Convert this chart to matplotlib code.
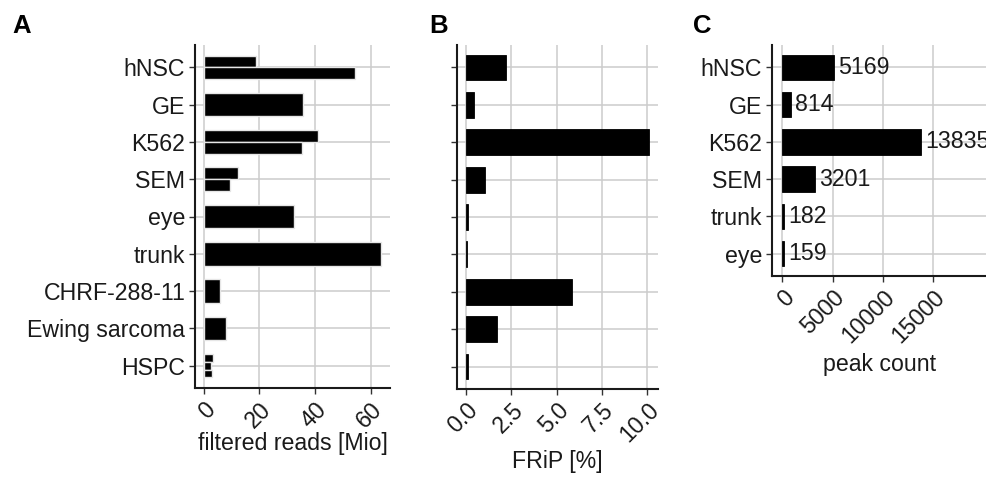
import numpy as np
import matplotlib
matplotlib.use('Agg')
import matplotlib.pyplot as plt

plt.rcParams['font.family'] = ['Liberation Sans', 'DejaVu Sans']
plt.rcParams['font.size'] = 16.7

#~~~~~~~~DATA~~~~~~~~#
samples_ab = ['hNSC', 'GE', 'K562', 'SEM', 'eye', 'trunk', 'CHRF-288-11', 'Ewing sarcoma', 'HSPC']
# filtered reads per replicate [Mio]
reads = [[18.8, 54.3], [35.8], [41.2, 35.2], [12.4, 9.5], [32.5], [63.8], [5.8], [7.9], [3.4, 2.4, 2.8]]
# FRiP [%]
frip = [2.22, 0.46, 10.09, 1.06, 0.12, 0.07, 5.85, 1.72, 0.12]
reads_ticks = [0, 20, 40, 60]
frip_ticks = [0.0, 2.5, 5.0, 7.5, 10.0]

samples_c = ['hNSC', 'GE', 'K562', 'SEM', 'trunk', 'eye']
peaks = [5169, 814, 13835, 3201, 182, 159]
peak_ticks = [0, 5000, 10000, 15000]

#~~~~~~~~STYLE~~~~~~~~#
W, H = 987, 479
grid_col = '#cccccc'
ink = '#1a1a1a'


def px_axes(fig, left, top, right, bottom):
    return fig.add_axes([left / W, 1 - bottom / H, (right - left) / W, (bottom - top) / H])


def style(ax, ncat):
    ax.set_ylim(ncat - 1 + 0.6, -0.6)
    ax.set_axisbelow(True)
    ax.grid(True, color=grid_col, linewidth=1.1)
    for s in ['top', 'right']:
        ax.spines[s].set_visible(False)
    for s in ['left', 'bottom']:
        ax.spines[s].set_linewidth(1.5)
        ax.spines[s].set_color(ink)
    ax.tick_params(axis='both', length=4, width=1.0, color='#333333', labelcolor=ink, pad=3)


fig = plt.figure(figsize=(W / 100, H / 100), dpi=100)

#=============A==============#
axA = px_axes(fig, 195, 45, 390, 388)
width_a = 0.63
for i, vals in enumerate(reads):
    n = len(vals)
    h = width_a / n
    for k, v in enumerate(vals):
        yc = i - width_a / 2 + h * (k + 0.5)
        axA.barh(yc, v, height=h, color='black', edgecolor='#e6e6e6', linewidth=1.0)
maxA = max(max(v) for v in reads)
axA.set_xlim(-0.05 * maxA, 1.05 * maxA)
style(axA, len(samples_ab))
axA.set_yticks(range(len(samples_ab)))
axA.set_yticklabels(samples_ab)
axA.set_xticks(reads_ticks)
axA.set_xticklabels([str(t) for t in reads_ticks], rotation=45, ha='right', va='top', rotation_mode='anchor')
axA.set_xlabel('filtered reads [Mio]', labelpad=0, color=ink)

#=============B==============#
axB = px_axes(fig, 457, 45, 658, 389)
axB.barh(range(len(frip)), frip, height=0.69, color='black', edgecolor='black', linewidth=0.6)
maxB = max(frip)
axB.set_xlim(-0.05 * maxB, 1.05 * maxB)
style(axB, len(samples_ab))
axB.set_yticks(range(len(samples_ab)))
axB.set_yticklabels([])
axB.set_xticks(frip_ticks)
axB.set_xticklabels(['%.1f' % t for t in frip_ticks], rotation=45, ha='right', va='top', rotation_mode='anchor')
axB.set_xlabel('FRiP [%]', labelpad=2, color=ink)

#=============C==============#
axC = px_axes(fig, 772, 45, 987, 276)
yc = np.arange(len(peaks))
axC.barh(yc, peaks, height=0.69, color='black', edgecolor='black', linewidth=0.6)
for y, v in zip(yc, peaks):
    axC.annotate(str(v), (v, y), xytext=(3, 0), textcoords='offset points',
                 ha='left', va='center', color=ink, annotation_clip=False)
axC.set_xlim(-1040, 20360)
style(axC, len(samples_c))
axC.set_yticks(yc)
axC.set_yticklabels(samples_c)
axC.set_xticks(peak_ticks)
axC.set_xticklabels([str(t) for t in peak_ticks], rotation=45, ha='right', va='top', rotation_mode='anchor')
axC.set_xlabel('peak count', labelpad=4, color=ink)

#=============LETTERS==============#
for lab, x in [('A', 12), ('B', 429), ('C', 693)]:
    fig.text(x / W, 1 - 33 / H, lab, fontsize=18.5, fontweight='bold', ha='left', va='baseline')

fig.savefig('out.png', dpi=100)
